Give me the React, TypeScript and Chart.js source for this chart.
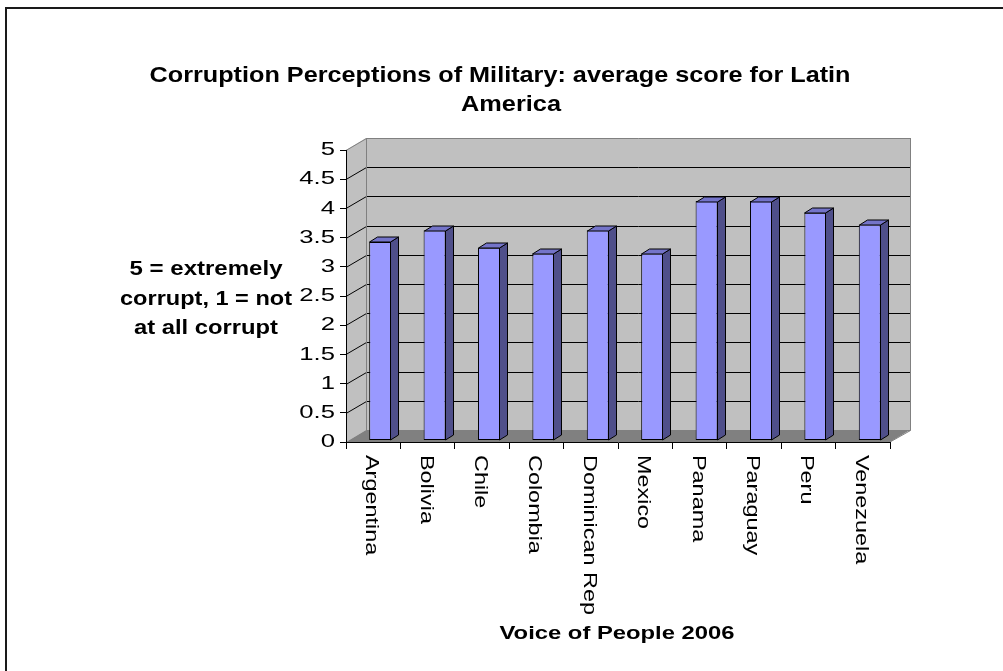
import React, { useEffect, useRef } from 'react';
import { Chart, registerables } from 'chart.js';

Chart.register(...registerables);

// ---------- data ----------
const categories: string[] = [
  'Argentina', 'Bolivia', 'Chile', 'Colombia', 'Dominican Rep',
  'Mexico', 'Panama', 'Paraguay', 'Peru', 'Venezuela',
];
const scores: number[] = [3.4, 3.6, 3.3, 3.2, 3.6, 3.2, 4.1, 4.1, 3.9, 3.7];
const yMin = 0;
const yMax = 5;
const yStep = 0.5;
const titleLines: string[] = ['Corruption Perceptions of Military: average score for Latin', 'America'];
const yTitleLines: string[] = ['5 = extremely', 'corrupt, 1 = not', 'at all corrupt'];
const xTitle = 'Voice of People 2006';

// ---------- style ----------
const FONT = '"Liberation Sans", Arial, sans-serif';
const DX = 20;   // depth of the 3D box
const DY = -12;
const BAR_SHIFT_X = 7;
const BAR_SHIFT_Y = -1.5;
const BAR_DX = 8;
const BAR_DY = -5;
const FRONT = '#9999ff';
const SIDE = '#4f4f8a';
const TOP = '#7474c9';
const WALL = '#c0c0c0';
const FLOOR = '#808080';
const EDGE = '#808080';

function drawText(
  ctx: CanvasRenderingContext2D,
  text: string,
  x: number,
  y: number,
  font: string,
  opts: { width?: number; stretch?: number; align?: CanvasTextAlign; rotate?: number } = {}
) {
  ctx.save();
  ctx.font = font;
  const w = ctx.measureText(text).width;
  const sx = opts.width ? opts.width / w : (opts.stretch ?? 1);
  ctx.translate(x, y);
  if (opts.rotate) ctx.rotate(opts.rotate);
  ctx.scale(sx, 1);
  ctx.textAlign = opts.align ?? 'center';
  ctx.textBaseline = 'middle';
  ctx.fillStyle = '#000';
  ctx.fillText(text, 0, 0);
  ctx.restore();
}

function poly(ctx: CanvasRenderingContext2D, pts: number[][], fill?: string, stroke?: string) {
  ctx.beginPath();
  ctx.moveTo(pts[0][0], pts[0][1]);
  for (let i = 1; i < pts.length; i++) ctx.lineTo(pts[i][0], pts[i][1]);
  ctx.closePath();
  if (fill) { ctx.fillStyle = fill; ctx.fill(); }
  if (stroke) { ctx.strokeStyle = stroke; ctx.lineWidth = 1; ctx.stroke(); }
}

const scenePlugin = {
  id: 'scene3d',
  beforeDraw(chart: any) {
    const { ctx, chartArea: a } = chart;
    const y = chart.scales.y;
    const L = a.left, R = a.right, T = a.top, B = a.bottom;
    ctx.save();
    ctx.fillStyle = '#ffffff';
    ctx.fillRect(0, 0, chart.width, chart.height);
    // outer frame (top & left visible)
    ctx.fillStyle = '#1a1a1a';
    ctx.fillRect(5, 7, 2, chart.height);
    ctx.fillRect(5, 7, chart.width, 2);

    // side wall
    poly(ctx, [[L, T], [L + DX, T + DY], [L + DX, B + DY], [L, B]], WALL);
    // back wall
    ctx.fillStyle = WALL;
    ctx.fillRect(L + DX, T + DY, R - L, B - T);
    // floor
    poly(ctx, [[L, B], [R, B], [R + DX, B + DY], [L + DX, B + DY]], FLOOR);

    // gridlines on walls
    ctx.lineWidth = 1;
    for (const t of y.ticks) {
      const v = t.value;
      if (v <= yMin) continue;
      const py = Math.round(y.getPixelForValue(v)) + 0.5;
      ctx.strokeStyle = v >= yMax ? EDGE : '#000000';
      ctx.beginPath();
      ctx.moveTo(L, py);
      ctx.lineTo(L + DX + 0.5, py + DY);
      ctx.lineTo(R + DX + 0.5, py + DY);
      ctx.stroke();
    }
    // wall edges
    ctx.strokeStyle = EDGE;
    ctx.beginPath();
    ctx.moveTo(L + DX + 0.5, T + DY);
    ctx.lineTo(L + DX + 0.5, B + DY + 0.5);
    ctx.lineTo(R + DX + 0.5, B + DY + 0.5);
    ctx.moveTo(R + DX + 0.5, T + DY);
    ctx.lineTo(R + DX + 0.5, B + DY + 0.5);
    ctx.lineTo(R, B);
    ctx.stroke();
    ctx.restore();
  },
  beforeDatasetsDraw(chart: any) {
    chart.ctx.save();
    chart.ctx.translate(BAR_SHIFT_X, BAR_SHIFT_Y);
  },
  afterDatasetsDraw(chart: any) {
    const ctx = chart.ctx;
    ctx.restore();
    ctx.save();
    ctx.lineJoin = 'miter';
    const meta = chart.getDatasetMeta(0);
    for (const el of meta.data) {
      const p = el.getProps(['x', 'y', 'base', 'width'], true);
      const l = Math.round(p.x - p.width / 2) + BAR_SHIFT_X + 0.5;
      const r = Math.round(p.x + p.width / 2) + BAR_SHIFT_X - 0.5;
      const top = Math.round(p.y) + BAR_SHIFT_Y + 0.5;
      const bot = Math.round(p.base) + BAR_SHIFT_Y - 0.5;
      poly(ctx, [[r, top], [r + BAR_DX, top + BAR_DY], [r + BAR_DX, bot + BAR_DY], [r, bot]], SIDE, '#000');
      poly(ctx, [[l, top], [l + BAR_DX, top + BAR_DY], [r + BAR_DX, top + BAR_DY], [r, top]], TOP, '#000');
    }
    ctx.restore();
  },
  afterDraw(chart: any) {
    const { ctx } = chart;
    const x = chart.scales.x;
    const y = chart.scales.y;
    const L = chart.chartArea.left;
    // y tick labels
    for (const t of y.ticks) {
      const label = String(Number(t.value.toFixed(2)));
      drawText(ctx, label, L - 11, y.getPixelForValue(t.value), `19px ${FONT}`, { stretch: 1.35, align: 'right' });
    }
    // x category labels, rotated clockwise
    categories.forEach((c, i) => {
      drawText(ctx, c, x.getPixelForValue(i) - 2, 455, `18px ${FONT}`, { stretch: 1.3, align: 'left', rotate: Math.PI / 2 });
    });
    // chart title
    drawText(ctx, titleLines[0], 500, 76, `bold 22px ${FONT}`, { width: 701 });
    drawText(ctx, titleLines[1], 511, 105, `bold 22px ${FONT}`, { width: 100 });
    // y axis title
    const yW = [153, 172, 144];
    const yY = [269, 299, 328];
    yTitleLines.forEach((s, i) => drawText(ctx, s, 206, yY[i], `bold 20px ${FONT}`, { width: yW[i] }));
    // x axis title
    drawText(ctx, xTitle, 617, 634, `bold 19px ${FONT}`, { width: 235 });
  },
};

export default function App() {
  const ref = useRef<HTMLCanvasElement | null>(null);
  useEffect(() => {
    if (!ref.current) return;
    const chart = new Chart(ref.current, {
      type: 'bar',
      data: {
        labels: categories,
        datasets: [{
          data: scores,
          backgroundColor: FRONT,
          borderColor: '#000000',
          borderWidth: 1,
          borderSkipped: false,
          barPercentage: 1,
          categoryPercentage: 0.405,
        }],
      },
      options: {
        responsive: false,
        animation: false,
        devicePixelRatio: 1,
        layout: { padding: { left: 340, right: 113, top: 150, bottom: 222 } },
        plugins: { legend: { display: false }, title: { display: false }, tooltip: { enabled: false } },
        scales: {
          x: {
            ticks: { display: false },
            grid: { drawOnChartArea: false, drawTicks: true, tickLength: 7, color: '#000000', offset: true },
            border: { display: true, color: '#000000' },
            afterFit: (s: any) => { s.height = 7; },
          },
          y: {
            min: yMin,
            max: yMax,
            ticks: { display: false, stepSize: yStep },
            grid: { drawOnChartArea: false, drawTicks: true, tickLength: 6, color: '#000000' },
            border: { display: true, color: '#000000' },
            afterFit: (s: any) => { s.width = 6; },
          },
        },
      },
      plugins: [scenePlugin],
    });
    return () => chart.destroy();
  }, []);
  return (
    <div style={{ position: 'absolute', left: 0, top: 0, width: 1003, height: 671 }}>
      <canvas ref={ref} width={1003} height={671} style={{ display: 'block' }} />
    </div>
  );
}
